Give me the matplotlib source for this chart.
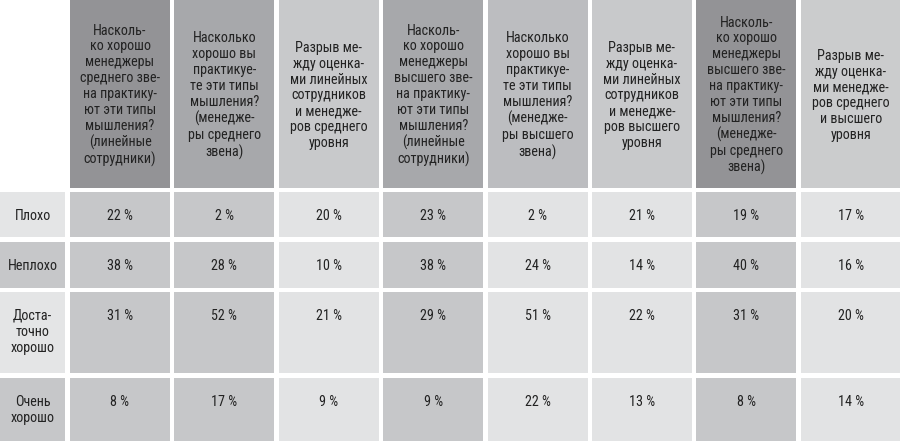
import matplotlib.pyplot as plt
from matplotlib.patches import Rectangle

plt.rcParams['font.family'] = ['Roboto Condensed', 'DejaVu Sans']

# column headers (line breaks as in the source)
headers = [
    'Насколь-\nко хорошо\nменеджеры\nсреднего зве-\nна практику-\nют эти типы\nмышления?\n(линейные\nсотрудники)',
    'Насколько\nхорошо вы\nпрактикуе-\nте эти типы\nмышления?\n(менедже-\nры среднего\nзвена)',
    'Разрыв ме-\nжду оценка-\nми линейных\nсотрудников\nи менедже-\nров среднего\nуровня',
    'Насколь-\nко хорошо\nменеджеры\nвысшего зве-\nна практику-\nют эти типы\nмышления?\n(линейные\nсотрудники)',
    'Насколько\nхорошо вы\nпрактикуе-\nте эти типы\nмышления?\n(менедже-\nры высшего\nзвена)',
    'Разрыв ме-\nжду оценка-\nми линейных\nсотрудников\nи менедже-\nров высшего\nуровня',
    'Насколь-\nко хорошо\nменеджеры\nвысшего зве-\nна практику-\nют эти типы\nмышления?\n(менедже-\nры среднего\nзвена)',
    'Разрыв ме-\nжду оценка-\nми менедже-\nров среднего\nи высшего\nуровня',
]
row_labels = ['Плохо', 'Неплохо', 'Доста-\nточно\nхорошо', 'Очень\nхорошо']

# percentages, one list per row
plokho = [22, 2, 20, 23, 2, 21, 19, 17]
neplokho = [38, 28, 10, 38, 24, 14, 40, 16]
dostatochno = [31, 52, 21, 29, 51, 22, 31, 20]
ochen = [8, 17, 9, 9, 22, 13, 8, 14]
values = [plokho, neplokho, dostatochno, ochen]

# colours
header_colors = ['#939396', '#a7a8ab', '#c8c9cb', '#a7a8ab',
                 '#bcbdc0', '#c8c9cb', '#939396', '#cbcccd']
col_colors = ['#c6c7c9', '#c6c7c9', '#e2e3e4', '#c6c7c9',
              '#e2e3e4', '#e2e3e4', '#c6c7c9', '#e2e3e4']
label_colors = ['#e4e5e6', '#c6c7c9', '#e4e5e6', '#c6c7c9']

# layout in pixels
col_x0 = 70
col_step = 104.4
col_w = 100
label_w = 65
header_h = 188
row_tops = [192, 242, 292, 378]
row_bottoms = [237, 288, 373, 441]
fs = 10.2

fig = plt.figure(figsize=(9, 4.41), dpi=100)
ax = fig.add_axes([0, 0, 1, 1])
ax.set_xlim(0, 900)
ax.set_ylim(441, 0)
ax.axis('off')

for i, h in enumerate(headers):
    x = col_x0 + i * col_step
    ax.add_patch(Rectangle((x, 0), col_w, header_h, color=header_colors[i], lw=0))
    ax.text(x + col_w / 2, header_h / 2 + 1.5, h, ha='center', va='center',
            fontsize=fs, color='#222222', linespacing=1.17)

for r, lab in enumerate(row_labels):
    top = row_tops[r]
    hgt = row_bottoms[r] - top
    ax.add_patch(Rectangle((0, top), label_w, hgt, color=label_colors[r], lw=0))
    ax.text(label_w / 2, top + 17, lab, ha='center', va='top',
            fontsize=fs, color='#222222', linespacing=1.2)
    for i, v in enumerate(values[r]):
        x = col_x0 + i * col_step
        ax.add_patch(Rectangle((x, top), col_w, hgt, color=col_colors[i], lw=0))
        ax.text(x + col_w / 2, top + 17, f'{v} %', ha='center', va='top',
                fontsize=fs, color='#222222')

fig.savefig('out.png', dpi=100)
